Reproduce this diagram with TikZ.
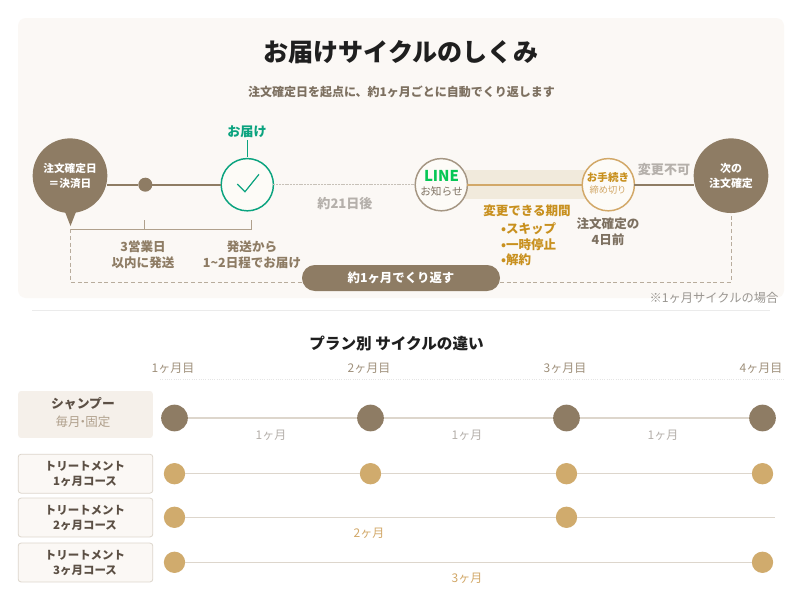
\documentclass[tikz,border=0pt]{standalone}
\usepackage{fontspec}
\setmainfont{Noto Sans CJK JP}
\definecolor{panel}{HTML}{FBF8F5}
\definecolor{brown}{HTML}{8E7C64}
\definecolor{brownl}{HTML}{B0A08C}
\definecolor{dashc}{HTML}{B8AC9C}
\definecolor{grayt}{HTML}{B5B0AB}
\definecolor{greenc}{HTML}{0BA37F}
\definecolor{linegreen}{HTML}{06C755}
\definecolor{orangel}{HTML}{D2A868}
\definecolor{oranget}{HTML}{C8901E}
\definecolor{band}{HTML}{F1EADC}
\definecolor{planf}{HTML}{F5F0EA}
\definecolor{cream}{HTML}{FDFBF7}
\definecolor{darkt}{HTML}{5C5045}
\definecolor{midt}{HTML}{7D7060}
\definecolor{gold}{HTML}{D0AB6D}
\definecolor{tl}{HTML}{DDD6CC}
\newcommand{\fz}[1]{\fontsize{#1}{#1}\selectfont}
\tikzset{
  x=0.75pt,y=-0.75pt,
  every node/.style={inner sep=0pt,outer sep=0pt},
  bigcirc/.style={circle,fill=brown,minimum size=56pt,text=white,align=center,font=\fz{8}\bfseries},
  ringc/.style={circle,fill=cream,minimum size=39.2pt,line width=1.1pt},
  lab/.style={font=\fz{9.4}\bfseries,text=brown},
  gr/.style={font=\fz{9.8}\bfseries,text=grayt},
  orl/.style={font=\fz{9.4}\bfseries,text=oranget},
  dk/.style={font=\fz{9.4}\bfseries,text=midt},
  mon/.style={font=\fz{9},text=brown!85},
  sp/.style={font=\fz{9},text=grayt},
  plan/.style={rectangle,rounded corners=2.2pt,minimum width=101pt,fill=panel,draw=tl,line width=0.6pt,minimum height=29.2pt},
  pl/.style={font=\fz{8.6}\bfseries,text=darkt},
  bdot/.style={circle,fill=brown,minimum size=20pt},
  gdot/.style={circle,fill=gold,minimum size=16pt},
  tline/.style={draw=tl,line width=1pt},
  solidb/.style={draw=brown,line width=1.6pt},
  brk/.style={draw=brownl,line width=0.8pt},
  dsh/.style={draw=dashc,line width=0.7pt,dash pattern=on 3pt off 2pt},
}
\begin{document}
\begin{tikzpicture}
\useasboundingbox (0,0) rectangle (800,600);
\fill[white] (0,0) rectangle (800,600);
\fill[panel,rounded corners=6pt] (18,18) rectangle (784,298);
\draw[draw=black!8,line width=0.6pt] (32,310) -- (770,310);
\node (title) at (401,52) {\fz{18.8}\bfseries\textcolor{black!88}{お届けサイクルのしくみ}};
\node[font=\fz{9}\bfseries,text=midt] (sub) at (401.5,92) {注文確定日を起点に、約1ヶ月ごとに自動でくり返します};
% band
\fill[band] (465,170) rectangle (585,199);
% circles
\fill[brown] (63.5,208) -- (70.5,226) -- (77.5,208) -- cycle;
\node[bigcirc] (start) at (70,175.7) {注文確定日\\[3pt]＝決済日};
\node[circle,fill=brown,minimum size=10.5pt] (d1) at (145.3,184.7) {};
\node[ringc,draw=greenc] (chk) at (247.3,184.7) {};
\node[font=\fz{9.8}\bfseries,text=greenc] (todoke) at (247,132) {お届け};
\coordinate (tickb) at (247.3,157);
\coordinate (ticka) at (247.3,140);
\draw[draw=greenc,line width=0.8pt] (ticka) -- (tickb);
\draw[draw=greenc,line width=0.9pt] (237.3,184) -- (245,191.7) -- (259,174.3);
\node[ringc,draw=brown!80] (line) at (441.3,184.7) {};
\node[font=\fz{11.2}\bfseries,text=linegreen] (linet) at (441.5,176) {LINE};
\node[font=\fz{8},text=midt] (linet2) at (441.5,191.5) {お知らせ};
\node[ringc,draw=orangel] (proc) at (608.3,184.7) {};
\node[font=\fz{7.9}\bfseries,text=oranget] (proct) at (608,177) {お手続き};
\node[font=\fz{6.9},text=orangel] (proct2) at (608,190.5) {締め切り};
\node[bigcirc,font=\fz{8.2}\bfseries] (next) at (731,175.7) {次の\\[3.2pt]注文確定};
% connectors on the timeline
\draw[solidb] (start.east |- d1) -- (d1);
\draw[solidb] (d1) -- (chk);
\draw[draw=tl!90!black,line width=0.6pt,dash pattern=on 1.5pt off 0.6pt] (chk) -- (line);
\draw[draw=orangel,line width=1.4pt] (line) -- (proc);
\draw[draw=brown,line width=1.3pt] (proc) -- (next.west |- proc);
% labels
\node[gr] (d21) at (345,204) {約21日後};
\node[gr] (nochg) at (664,170) {変更不可};
% bracket
\coordinate (b0) at (70.5,229.3);
\coordinate (b1) at (144.7,229.3);
\coordinate (b2) at (251.3,229.3);
\coordinate (b1t) at (144.7,220);
\coordinate (b2t) at (251.3,220);
\draw[brk] (b0) -- (b2) -- (b2t);
\draw[brk] (b1) -- (b1t);
\node[lab] (l1) at (143,247) {3営業日};
\node[lab] (l2) at (143,263) {以内に発送};
\node[lab] (l3) at (252,247) {発送から};
\node[lab] (l4) at (252,263) {1\textasciitilde 2日程でお届け};
% pill and dashes
\node[rectangle,rounded corners=9.7pt,fill=brown,minimum width=148.5pt,minimum height=19.5pt,text=white,font=\fz{9.3}\bfseries] (pill) at (401,278) {約1ヶ月でくり返す\hspace{5pt}};
\coordinate (dc1) at (70.5,282);
\coordinate (dc2) at (731,282);
\draw[dsh] (b0) -- (dc1) -- (pill.west |- dc1);
\draw[dsh] (pill.east |- dc2) -- (dc2) -- (next.south);
% change period
\node[orl] (chg) at (527,211) {変更できる期間};
\node[orl,anchor=west] (c1) at (501,228.6) {•スキップ};
\node[orl,anchor=west] (c2) at (501,244.4) {•一時停止};
\node[orl,anchor=west] (c3) at (501,260) {•解約};
\node[dk] (f1) at (608,224) {注文確定の};
\node[dk] (f2) at (608,240) {4日前};
\node[font=\fz{9.2},text=grayt!85!black] (note) at (714,298) {※1ヶ月サイクルの場合};
% lower section
\draw[draw=black!10,line width=0.7pt,densely dotted] (160,379) -- (784,379);
\node[font=\fz{11.7}\bfseries,text=black!88] (ptitle) at (396.5,343) {プラン別 サイクルの違い};
\node[mon] (m1) at (173,368) {1ヶ月目};
\node[mon] (m2) at (369,368) {2ヶ月目};
\node[mon] (m3) at (565,368) {3ヶ月目};
\node[mon] (m4) at (761,368) {4ヶ月目};
% plan boxes
\node[plan,draw=none,fill=planf,minimum height=35.2pt] (p1) at (85.5,414.5) {};
\node[font=\fz{9.6}\bfseries,text=darkt] (p1a) at (83,404) {シャンプー};
\node[font=\fz{9.4},text=brownl] (p1b) at (83,422) {毎月\hspace{-3pt}・\hspace{-3pt}固定};
\node[plan] (p2) at (85.5,473.7) {};
\node[pl] (p2a) at (85,466) {トリートメント};
\node[pl] (p2b) at (85,481.7) {1ヶ月コース};
\node[plan] (p3) at (85.5,517.5) {};
\node[pl] (p3a) at (85,510) {トリートメント};
\node[pl] (p3b) at (85,525.5) {2ヶ月コース};
\node[plan] (p4) at (85.5,562.5) {};
\node[pl] (p4a) at (85,555) {トリートメント};
\node[pl] (p4b) at (85,570.5) {3ヶ月コース};
% row 1
\node[bdot] (a1) at (174.5,418) {};
\node[bdot] (a2) at (370.5,418) {};
\node[bdot] (a3) at (566.5,418) {};
\node[bdot] (a4) at (762.5,418) {};
\draw[tline] (a1) -- (a2);
\draw[tline] (a2) -- (a3);
\draw[tline] (a3) -- (a4);
\node[sp] (a12) at (271,435) {1ヶ月};
\node[sp] (a23) at (467,435) {1ヶ月};
\node[sp] (a34) at (663,435) {1ヶ月};
% row 2
\node[gdot] (b1n) at (174.5,473.7) {};
\node[gdot] (b2n) at (370.5,473.7) {};
\node[gdot] (b3n) at (566.5,473.7) {};
\node[gdot] (b4n) at (762.5,473.7) {};
\draw[tline] (b1n) -- (b2n);
\draw[tline] (b2n) -- (b3n);
\draw[tline] (b3n) -- (b4n);
% row 3
\node[gdot] (c1n) at (174.5,517.3) {};
\node[gdot] (c3n) at (566.5,517.3) {};
\coordinate (c4n) at (775,517.3);
\draw[tline] (c1n) -- (c3n);
\draw[tline] (c3n) -- (c4n);
\node[sp,text=orangel] (c13) at (369,533) {2ヶ月};
% row 4
\node[gdot] (d1n) at (174.5,562.3) {};
\node[gdot] (d4n) at (762.5,562.3) {};
\draw[tline] (d1n) -- (d4n);
\node[sp,text=orangel] (d14) at (467,578) {3ヶ月};
\end{tikzpicture}
\end{document}
